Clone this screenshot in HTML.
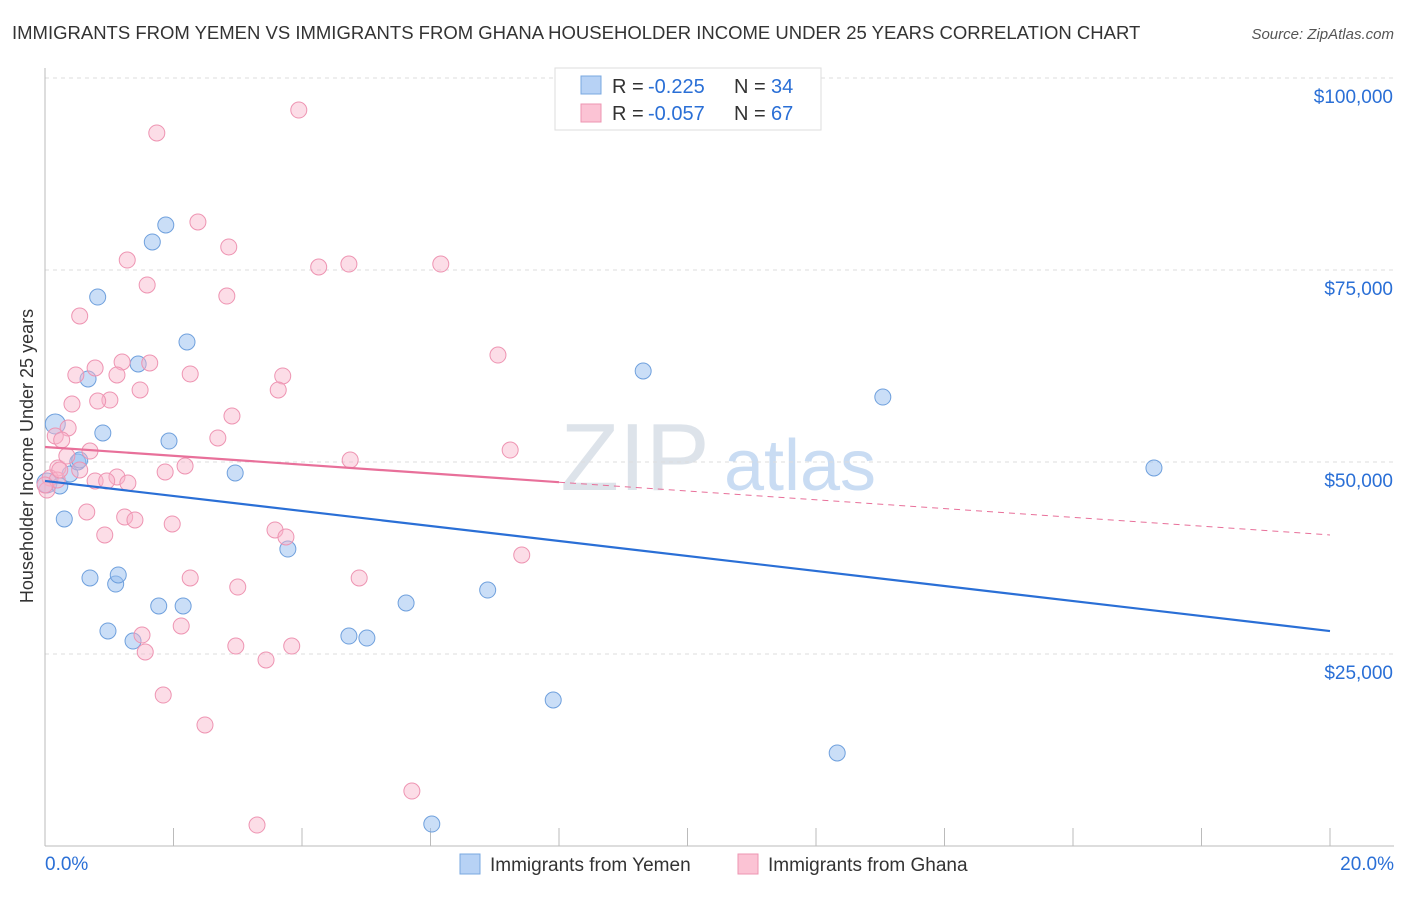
<!DOCTYPE html>
<html><head><meta charset="utf-8"><style>
body{margin:0;background:#fff;font-family:"Liberation Sans",sans-serif;}
svg text{font-family:"Liberation Sans",sans-serif;}
</style></head><body>
<svg id="chart" width="1406" height="892" xmlns="http://www.w3.org/2000/svg">
<text x="12" y="39" font-size="18.5" fill="#333">IMMIGRANTS FROM YEMEN VS IMMIGRANTS FROM GHANA HOUSEHOLDER INCOME UNDER 25 YEARS CORRELATION CHART</text>
<text x="1394" y="39" font-size="15" fill="#555" text-anchor="end" font-style="italic">Source: ZipAtlas.com</text>
<text transform="translate(33,456) rotate(-90)" font-size="18" fill="#333" text-anchor="middle">Householder Income Under 25 years</text>
<g>
<text x="635" y="490" font-size="96" fill="#dde3ea" text-anchor="middle" font-family="Liberation Serif,serif">ZIP</text>
<text x="800" y="490" font-size="72" fill="#c9dcf3" text-anchor="middle">atlas</text>
</g>
<g id="grid"></g><g id="axes"></g><g id="pts"></g><g id="trends"></g>
<g>
<rect x="555" y="68" width="266" height="62" fill="#fff" stroke="#ddd"/>
<rect x="581" y="76" width="20" height="18" fill="#b7d2f5" stroke="#7aa8e0"/>
<rect x="581" y="104" width="20" height="18" fill="#fbc3d4" stroke="#ee94b2"/>
<text x="612" y="93" font-size="20" fill="#333">R =</text>
<text x="648" y="93" font-size="20" fill="#2a6fd6">-0.225</text>
<text x="734" y="93" font-size="20" fill="#333">N =</text>
<text x="771" y="93" font-size="20" fill="#2a6fd6">34</text>
<text x="612" y="120" font-size="20" fill="#333">R =</text>
<text x="648" y="120" font-size="20" fill="#2a6fd6">-0.057</text>
<text x="734" y="120" font-size="20" fill="#333">N =</text>
<text x="771" y="120" font-size="20" fill="#2a6fd6">67</text>
</g>
<g>
<rect x="460" y="854" width="20" height="20" fill="#b7d2f5" stroke="#7aa8e0"/>
<text x="490" y="871" font-size="19" fill="#333">Immigrants from Yemen</text>
<rect x="738" y="854" width="20" height="20" fill="#fbc3d4" stroke="#ee94b2"/>
<text x="768" y="871" font-size="19" fill="#333">Immigrants from Ghana</text>
</g>
</svg>
<script>
const yTicks=[25000,50000,75000,100000];
const yTickLabels=["$25,000","$50,000","$75,000","$100,000"];
const xTickLabels=["0.0%","20.0%"];
const yemenX=[0.16,0.03,0.23,0.30,0.39,0.51,0.67,0.82,0.90,0.70,1.10,1.14,0.98,1.37,1.45,1.67,1.88,2.21,1.93,1.77,2.15,2.96,3.78,4.73,5.01,5.62,6.89,7.91,9.31,13.04,12.33,17.26,6.02,0.54];
const yemenY=[54950,47270,46880,42580,48440,50000,60810,71480,53780,34900,34110,35290,28000,26690,62760,78650,80860,65630,52730,31250,31250,48570,38670,27340,27080,31640,33330,19010,61850,58460,12110,49220,2860,50260];
const ghanaX=[3.95,1.74,2.38,2.86,1.28,1.59,2.83,4.26,4.73,6.16,0.54,7.05,1.20,1.63,0.78,1.12,2.26,3.70,0.48,3.63,1.48,1.01,0.82,0.42,2.91,0.36,0.16,0.26,2.69,0.70,7.24,4.75,0.20,2.18,1.87,0.54,1.12,0.78,1.29,0.96,0.08,0.03,0.19,0.65,1.24,1.40,1.98,0.93,3.58,3.75,7.42,2.26,4.89,3.00,1.51,2.12,1.56,2.97,3.84,3.44,1.84,2.49,5.71,3.30,0.00,0.23,0.34];
const ghanaY=[95830,92840,81250,78000,76300,73050,71610,75390,75780,75780,69010,63930,63020,62890,62240,61330,61460,61200,61330,59380,59380,58070,57940,57550,55990,54430,53390,52870,53130,51430,51560,50260,49220,49480,48700,48960,48050,47530,47270,47530,47920,46350,47660,43490,42840,42450,41930,40500,41150,40240,37890,34900,34900,33720,27470,28650,25260,26040,26040,24220,19660,15760,7160,2730,47010,48960,50780];
const yemenTrend=[47530,27990];
const ghanaTrend=[51950,40500];
const ghanaSolidEnd=8;
const X=v=>45+v/20*1285, Y=v=>846-v/25000*192;
const NS="http://www.w3.org/2000/svg";
function mk(parent,tag,attrs){const e=document.createElementNS(NS,tag);for(const k in attrs)e.setAttribute(k,attrs[k]);document.getElementById(parent).appendChild(e);return e;}
yTicks.forEach((t,i)=>{
 const g=mk('grid','line',{x1:45,x2:1394,y1:Y(t),y2:Y(t),stroke:'#ddd','stroke-dasharray':'4,4'});
 
 
 const l=mk('axes','text',{x:1393,y:Y(t)+25,'font-size':19,fill:'#2a6fd6','text-anchor':'end'});l.textContent=yTickLabels[i];
 
 
});
const topLine=mk('grid','line',{x1:45,x2:1394,y1:78,y2:78,stroke:'#ddd','stroke-dasharray':'4,4'});


const ax=mk('axes','line',{x1:45,x2:1394,y1:846,y2:846,stroke:'#bbb'});


const ay=mk('axes','line',{x1:45,x2:45,y1:68,y2:846,stroke:'#bbb'});


for(let i=1;i<=10;i++){const t=mk('axes','line',{x1:X(i*2),x2:X(i*2),y1:828,y2:846,stroke:'#bbb'});
 
 }
[[0,'start',45],[20,'end',1394]].forEach((d,i)=>{const l=mk('axes','text',{x:d[2],y:870,'font-size':19,fill:'#2a6fd6','text-anchor':d[1]});l.textContent=xTickLabels[i];
 
 });
yemenX.forEach((x,i)=>{const c=mk('pts','circle',{cx:X(x),cy:Y(yemenY[i]),r:i<2?10:8,fill:'rgba(150,190,240,0.5)',stroke:'#6fa0dd','stroke-width':1});
 
 });
ghanaX.forEach((x,i)=>{const c=mk('pts','circle',{cx:X(x),cy:Y(ghanaY[i]),r:8,fill:'rgba(248,180,202,0.45)',stroke:'#ee94b2','stroke-width':1});
 
 });
const bt=mk('trends','line',{x1:X(0),y1:Y(yemenTrend[0]),x2:X(20),y2:Y(yemenTrend[1]),stroke:'#2a6fd6','stroke-width':2.2});


const gm=ghanaTrend[0]+(ghanaTrend[1]-ghanaTrend[0])*ghanaSolidEnd/20;
const pt=mk('trends','line',{x1:X(0),y1:Y(ghanaTrend[0]),x2:X(ghanaSolidEnd),y2:Y(gm),stroke:'#e8709a','stroke-width':2.2});


const pd=mk('trends','line',{x1:X(ghanaSolidEnd),y1:Y(gm),x2:X(20),y2:Y(ghanaTrend[1]),stroke:'#e8709a','stroke-width':1,'stroke-dasharray':'6,5'});


</script>
</body></html>
